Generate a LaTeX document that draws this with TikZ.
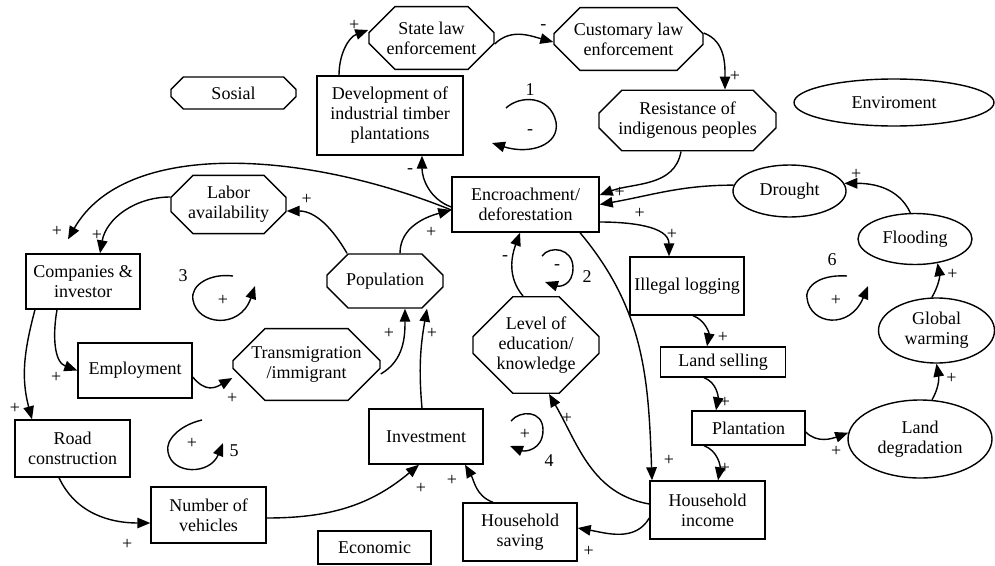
\documentclass[tikz,border=0pt]{standalone}
\usepackage{fontspec}
\setmainfont{Liberation Serif}
\usetikzlibrary{arrows.meta,positioning,shapes.geometric,shapes.misc}

\begin{document}
\begin{tikzpicture}[x=1pt, y=-1pt, >={Triangle[length=13pt,width=10.5pt]}, line width=1.4pt,
	font=\fontsize{18pt}{20pt}\selectfont]
	\tikzstyle{box}=[draw, rectangle, align=center, inner sep=0pt]
	\tikzstyle{oct}=[draw, chamfered rectangle, chamfered rectangle xsep=11pt,
		chamfered rectangle ysep=13pt, align=center, inner sep=0pt]
	\tikzstyle{oval}=[draw, ellipse, align=center, inner sep=0pt]
	\tikzstyle{sgn}=[inner sep=0pt]
	\useasboundingbox (0,0) rectangle (995,565);
	% % Nodes
	% sectors
	\node[oct, minimum width=125pt, minimum height=32pt, chamfered rectangle ysep=6pt]
	(sosial) at (233.5,93) {Sosial};
	\node[box, minimum width=113pt, minimum height=33pt] (econ) at (374.5,547.5) {Economic};
	\node[oval, minimum width=200pt, minimum height=47pt] (envir) at (894,102.5) {Enviroment};
	% law and plantations
	\node[oct, minimum width=125pt, minimum height=56pt, chamfered rectangle ysep=15pt]
	(statelaw) at (431.5,38)
	{State law\\enforcement};
	\node[oct, minimum width=149pt, minimum height=58pt, chamfered rectangle ysep=15pt]
	(customary) at (628.5,39)
	{Customary law\\enforcement};
	\node[box, minimum width=146pt, minimum height=79pt] (dev) at (390,115.5)
	{Development of\\industrial timber\\plantations};
	\node[oct, minimum width=177pt, minimum height=57pt, chamfered rectangle ysep=12pt]
	(resist) at (687.5,120.5)
	{Resistance of\\indigenous peoples};
	% deforestation
	\node[box, minimum width=147pt, minimum height=55pt] (enc) at (525.5,204.5)
	{Encroachment/\\deforestation};
	\node[oct, minimum width=115pt, minimum height=55pt, chamfered rectangle ysep=11pt]
	(labor) at (228.5,204.5)
	{Labor\\availability};
	\node[box, minimum width=114pt, minimum height=55pt] (comp) at (83,281.5)
	{Companies \&\\investor};
	\node[oct, minimum width=116pt, minimum height=54pt] (pop) at (385,281)
	{Population};
	\node[oct, minimum width=126pt, minimum height=84pt, chamfered rectangle xsep=20pt,
		chamfered rectangle ysep=20pt] (level) at (536,345)
	{Level of\\education/\\knowledge};
	\node[box, minimum width=114pt, minimum height=55pt] (empl) at (135,370.5)
	{Employment};
	\node[oct, minimum width=147pt, minimum height=65pt, chamfered rectangle xsep=14pt,
		chamfered rectangle ysep=18pt] (transm) at (306.5,364.5)
	{Transmigration\\/immigrant};
	\node[box, minimum width=115pt, minimum height=57pt] (road) at (72.5,448.5)
	{Road\\construction};
	\node[box, minimum width=114pt, minimum height=55pt] (invest) at (426,436.5)
	{Investment};
	\node[box, minimum width=115pt, minimum height=56pt] (vehicles) at (208.5,515)
	{Number of\\vehicles};
	% income chain
	\node[box, minimum width=114pt, minimum height=58pt] (illegal) at (687,286)
	{Illegal logging};
	\node[box, minimum width=125pt, minimum height=30pt] (landsell) at (723,362)
	{Land selling};
	\node[box, minimum width=113pt, minimum height=34pt] (plant) at (748.5,428)
	{Plantation};
	\node[box, minimum width=115pt, minimum height=58pt] (hhinc) at (707.5,510)
	{Household\\income};
	\node[box, minimum width=114pt, minimum height=58pt] (hhsav) at (520,532)
	{Household\\saving};
	% environment
	\node[oval, minimum width=113pt, minimum height=52pt] (drought) at (789.5,191) {Drought};
	\node[oval, minimum width=114pt, minimum height=51pt] (flood) at (915,239) {Flooding};
	\node[oval, minimum width=116pt, minimum height=65pt] (global) at (936.5,330.5)
	{Global\\warming};
	\node[oval, minimum width=144pt, minimum height=78pt] (landdeg) at (920,439)
	{Land\\degradation};
	% loop numbers
	\node (lp1) at (530,90) {1};
	\node (ls1) at (530,132) {-};
	\node (lp2) at (587,277) {2};
	\node (ls2) at (557,267) {-};
	\node (lp3) at (183,276) {3};
	\node (ls3) at (223,300) {+};
	\node (lp4) at (549,461) {4};
	\node (ls4) at (525,434) {+};
	\node (lp5) at (234,451) {5};
	\node (ls5) at (192,443) {+};
	\node (lp6) at (832,260) {6};
	\node (ls6) at (836,300) {+};
	% % Connectors
	\draw[->] ([xshift=-51pt]dev.north) to[out=90, in=200] ([yshift=8pt]statelaw.west)
		node[sgn, xshift=-14pt, yshift=5pt] {+};
	\draw[->] ([yshift=-6pt]statelaw.east) to[out=45, in=165] ([yshift=-3pt]customary.west)
		node[sgn, xshift=-10pt, yshift=15pt] {-};
	\draw[->] ([yshift=6pt]customary.east) to[out=-20, in=90] ([xshift=37.5pt]resist.north)
		node[sgn, xshift=10pt, yshift=13pt] {+};
	\draw[->] ([xshift=-6.5pt]resist.south) to[out=-100, in=20] ([yshift=9.5pt]enc.east)
		node[sgn, xshift=20pt, yshift=3pt] {+};
	\draw[->] (drought.174) to[out=180, in=10] (enc.east)
		node[sgn, xshift=40pt, yshift=-9pt] {+};
	\draw[->] (flood.100) to[out=115, in=0] (drought.8)
		node[sgn, xshift=12pt, yshift=9pt] {+};
	\draw[->] (global.98) to[out=60, in=-80] (flood.-47)
		node[sgn, xshift=15pt, yshift=-11pt] {+};
	\draw[->] (landdeg.73) to[out=60, in=-80] (global.south)
		node[sgn, xshift=15pt, yshift=-15pt] {+};
	\draw[->] ([yshift=-4pt]plant.east) to[out=-45, in=200] (landdeg.175)
		node[sgn, xshift=-12pt, yshift=-19pt] {+};
	\draw[->] ([yshift=-17.5pt]enc.east) to[out=0, in=90] ([xshift=-18pt]illegal.north)
		node[sgn, xshift=3pt, yshift=22pt] {+};
	\draw[->] ([xshift=6pt]illegal.south) to[out=-20, in=80] ([xshift=-16pt]landsell.north)
		node[sgn, xshift=16pt, yshift=9pt] {+};
	\draw[->] ([xshift=-19pt]landsell.south) to[out=-20, in=80] ([xshift=-32.5pt]plant.north)
		node[sgn, xshift=9pt, yshift=8pt] {+};
	\draw[->] ([xshift=-44.5pt]plant.south) to[out=-20, in=80] ([xshift=10.5pt]hhinc.north)
		node[sgn, xshift=7pt, yshift=12pt] {+};
	\draw[->] ([xshift=54.5pt]enc.south) to[out=-50, in=92] ([xshift=-55.5pt]hhinc.north)
		node[sgn, xshift=17pt, yshift=20pt] {+};
	\draw[->] ([yshift=6pt]hhinc.west) to[out=170, in=-60] ([xshift=13pt]level.south)
		node[sgn, xshift=18pt, yshift=-24pt] {+};
	\draw[->] ([yshift=-8pt]hhinc.west) to[out=-120, in=-10] ([yshift=4pt]hhsav.east)
		node[sgn, xshift=11pt, yshift=-23pt] {+};
	\draw[->] ([xshift=-27pt]hhsav.north) to[out=160, in=-60] ([xshift=39pt]invest.south)
		node[sgn, xshift=-13pt, yshift=-16pt] {+};
	\draw[->] ([yshift=-3pt]vehicles.east) to[out=0, in=-140] ([xshift=-7pt]invest.south)
		node[sgn, xshift=2pt, yshift=-24pt] {+};
	\draw[->] ([xshift=-13.5pt]road.south) to[out=-65, in=180] ([yshift=-8pt]vehicles.west)
		node[sgn, xshift=-23pt, yshift=-21pt] {+};
	\draw[->] ([xshift=-48pt]comp.south) to[out=-105, in=105] ([xshift=-40.5pt]road.north)
		node[sgn, xshift=-17pt, yshift=11pt] {+};
	\draw[->] ([xshift=-26pt]comp.south) to[out=-100, in=160] (empl.west)
		node[sgn, xshift=-21pt, yshift=-7pt] {+};
	\draw[->] ([yshift=-6.5pt]empl.east) to[out=-50, in=210, looseness=1.3] ([yshift=-13.5pt]transm.west)
		node[sgn, yshift=-20pt] {+};
	\draw[->] ([yshift=-9.5pt]transm.east) to[out=30, in=-90] ([xshift=20pt]pop.south)
		node[sgn, xshift=-16pt, yshift=-25pt] {+};
	\draw[->] ([xshift=-4pt]invest.north) to[out=95, in=-100] ([xshift=42pt]pop.south)
		node[sgn, xshift=5pt, yshift=-25pt] {+};
	\draw[->] ([xshift=-38pt]pop.north) to[out=120, in=0] ([yshift=-6.5pt]labor.east)
		node[sgn, xshift=20pt, yshift=12pt] {+};
	\draw[->] ([xshift=15pt]pop.north) to[out=90, in=195] ([yshift=-5.5pt]enc.west)
		node[sgn, xshift=-20pt, yshift=-22pt] {+};
	\draw[->] ([yshift=-2.5pt]enc.west) to[out=160, in=-90] ([xshift=32pt]dev.south)
		node[sgn, xshift=-12pt, yshift=-15pt] {-};
	\draw[->] ([yshift=-5.5pt]enc.west) .. controls +(-148,-60) and +(57,-100) ..
		([xshift=-15pt, yshift=14pt]comp.north)
		node[sgn, xshift=-11pt, yshift=8pt] {+};
	\draw[->] ([yshift=7.5pt]labor.west) to[out=180, in=80] ([xshift=17pt]comp.north)
		node[sgn, xshift=-3pt, yshift=18pt] {+};
	\draw[->] ([xshift=-13pt]level.north) to[out=130, in=-110] ([xshift=-5.5pt]enc.south)
		node[sgn, xshift=-15pt, yshift=-25pt] {-};
	% % Loop arrows
	\draw[->] (506,108) .. controls (520,95) and (550,95) .. (556,122)
		.. controls (560,145) and (530,155) .. (492,143);
	\draw[->] (542,256) .. controls (550,245) and (573,248) .. (573,268)
		.. controls (573,285) and (560,287) .. (545,282);
	\draw[->] (233,276) .. controls (210,273) and (190,285) .. (193,300)
		.. controls (197,325) and (240,330) .. (255,286);
	\draw[->] (511,421) .. controls (520,410) and (543,410) .. (543,430)
		.. controls (543,450) and (525,452) .. (510,446);
	\draw[->] (202,420) .. controls (180,425) and (165,440) .. (168,452)
		.. controls (172,475) and (210,475) .. (223,443);
	\draw[->] (847,276) .. controls (815,274) and (805,290) .. (807,298)
		.. controls (810,325) and (850,330) .. (868,286);
\end{tikzpicture}
\end{document}
